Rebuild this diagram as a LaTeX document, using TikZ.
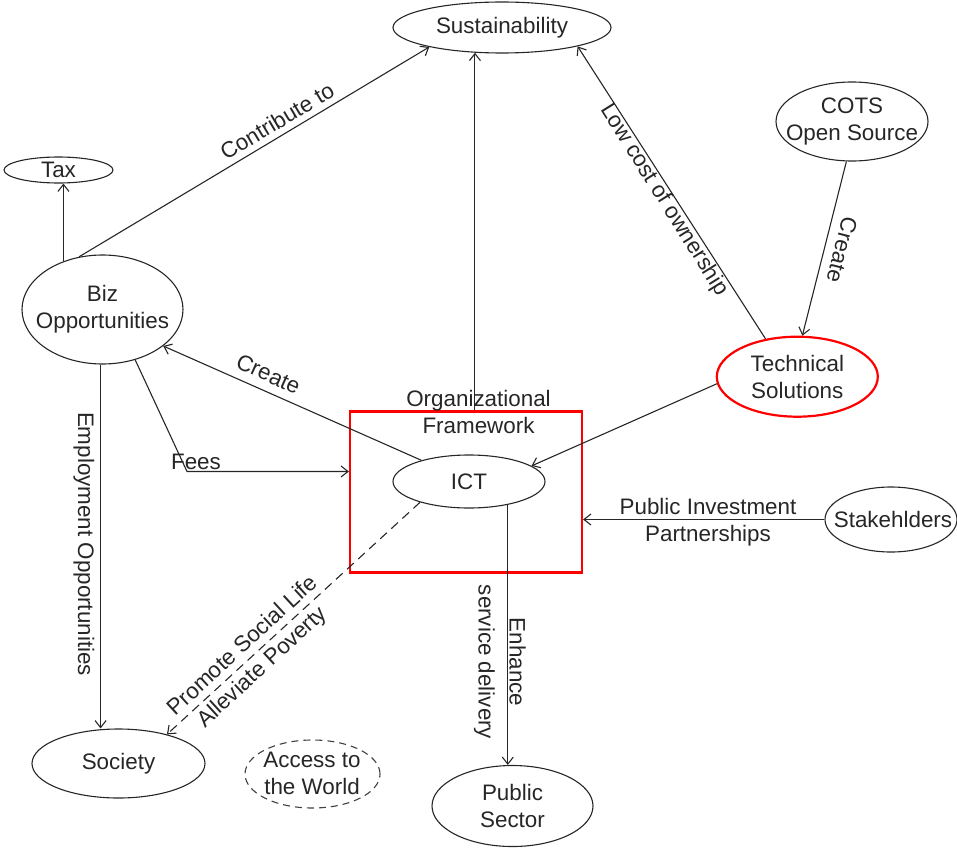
\documentclass[tikz,border=0pt]{standalone}
\usepackage{fontspec}
\setmainfont{Liberation Sans}
\usetikzlibrary{shapes.geometric,arrows.meta}
\begin{document}
\begin{tikzpicture}[x=1pt,y=-1pt,
  every node/.style={font=\fontsize{22.4}{27}\selectfont, text=black!85},
  ell/.style={ellipse, draw=black!85, line width=1.1pt, inner sep=0pt},
  redell/.style={ellipse, draw=red, line width=2.2pt, inner sep=0pt},
  dashell/.style={ellipse, draw=black!75, line width=1.1pt, dash pattern=on 7pt off 5pt, inner sep=0pt},
  txt/.style={align=center, inner sep=0pt},
  conn/.style={draw=black!85, line width=1.1pt, -{Straight Barb[length=7pt,width=11pt]}},
  dashconn/.style={conn, dash pattern=on 9pt off 6pt},
]
\useasboundingbox (0,0) rectangle (957,848);

% ellipses and the framework box
\node[ell, minimum width=218pt, minimum height=51pt] (sus) at (502,27.5) {};
\node[ell, minimum width=109pt, minimum height=26pt] (tax) at (58.5,170) {};
\node[ell, minimum width=161pt, minimum height=109pt] (biz) at (102.5,309.5) {};
\node[ell, minimum width=152pt, minimum height=79pt] (cots) at (852,121.5) {};
\node[redell, minimum width=161pt, minimum height=80pt] (tech) at (797.3,376.7) {};
\node[draw=red, line width=2.2pt, minimum width=232pt, minimum height=161pt, inner sep=0pt] (org) at (466,492) {};
\node[ell, minimum width=152pt, minimum height=53pt] (ict) at (469,481.5) {};
\node[ell, minimum width=132pt, minimum height=65pt] (stk) at (891,519.5) {};
\node[ell, minimum width=173pt, minimum height=69pt] (soc) at (118.5,763.5) {};
\node[dashell, minimum width=135pt, minimum height=68pt] (acc) at (312.5,774) {};
\node[ell, minimum width=161pt, minimum height=81pt] (pub) at (512.5,806) {};

% texts inside the shapes
\node[txt] (sus-t) at (sus) {Sustainability};
\node[txt] (tax-t) at (tax) {Tax};
\node[txt] (biz-t) at (biz) {Biz\\Opportunities};
\node[txt] (cots-t) at (cots) {COTS\\Open Source};
\node[txt] (tech-t) at (tech) {Technical\\Solutions};
\node[txt] (org-t) at (478.5,412) {Organizational\\Framework};
\node[txt] (ict-t) at (ict) {ICT};
\node[txt] (stk-t) at (893,519.5) {Stakehlders};
\node[txt] (soc-t) at (soc) {Society};
\node[txt] (acc-t) at (312,773) {Access to\\the World};
\node[txt] (pub-t) at (pub) {Public\\Sector};

% connectors
\draw[conn] (biz.129) -- (biz.129 |- tax.south);
\draw[conn] (biz.114.6) -- (sus.195.9);
\draw[conn] (sus.223.6 |- org.north) -- (sus.223.6);
\draw[conn] (tech.130.7) -- (sus.-14.5);
\draw[conn] (cots.-98.6) -- (tech.83.7);
\draw[conn] (tech.185.9) -- (ict.14.7);
\draw[conn] (ict.156.3) -- (biz.-31.1);
\coordinate (feesbend) at (187,471.5);
\draw[conn] (biz.-57.2) -- (feesbend) -- (feesbend -| org.west);
\draw[conn] (biz.-92.5) -- (biz.-92.5 |- soc.north);
\draw[dashconn] (ict.203.7) -- (soc.31.5);
\draw[conn] (ict.-31.1) -- (ict.-31.1 |- pub.north);
\draw[conn] (stk.west) -- (stk.west -| org.east);

% connector labels
\node[txt, rotate=30.8] (l-contrib) at (277,121) {Contribute to};
\node[txt, rotate=-58] (l-lowcost) at (664,200) {Low cost of ownership};
\node[txt, rotate=-104.2] (l-create1) at (842,250) {Create};
\node[txt, rotate=-24.1] (l-create2) at (268.5,374) {Create};
\node[txt] (l-fees) at (196,461.5) {Fees};
\node[txt, rotate=-90] (l-employ) at (84,544) {Employment Opportunities};
\node[txt, rotate=42.5] (l-promote) at (253,657) {Promote Social Life\\[2pt]Alleviate Poverty};
\node[txt, rotate=-90] (l-enhance) at (500,662) {Enhance\\[4pt]service delivery};
\node[txt] (l-pip) at (708,522) {Public Investment\\Partnerships};
\end{tikzpicture}
\end{document}
